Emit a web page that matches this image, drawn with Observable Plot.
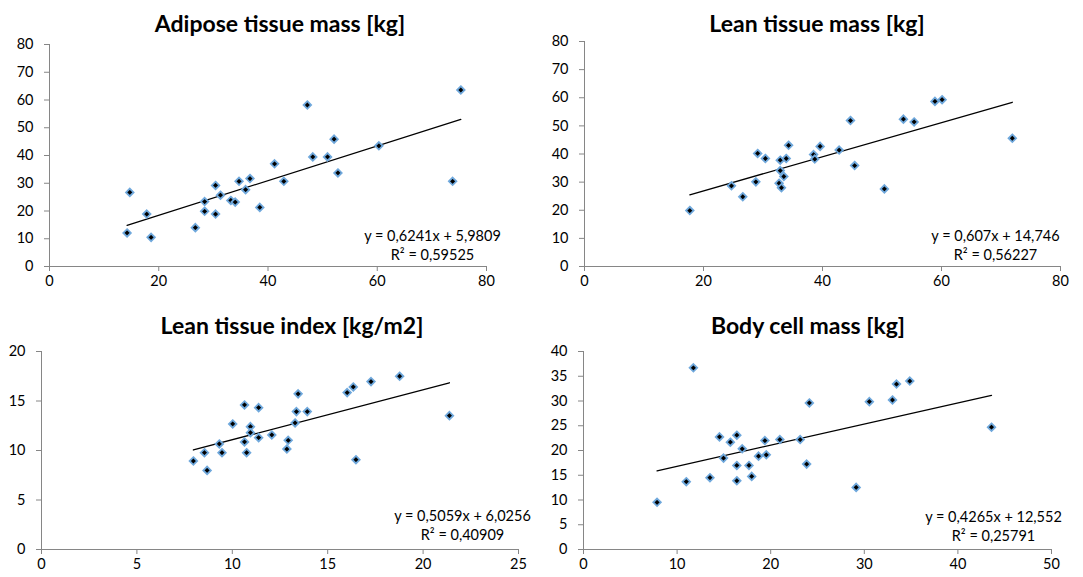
<!DOCTYPE html>
<html>
<head>
<meta charset="utf-8">
<script src="https://cdn.jsdelivr.net/npm/d3@7"></script>
<script src="https://cdn.jsdelivr.net/npm/@observablehq/plot@0.6"></script>
<style>
  body { margin: 0; background: #fff; }
  #wrap { position: relative; width: 1083px; height: 577px; background: #fff; font-family: Lato, Carlito, "Open Sans", sans-serif; }
  .panel { position: absolute; }
  .title { position: absolute; font-weight: bold; font-size: 23px; line-height: 23px; white-space: nowrap; transform: translateX(-50%); color: #000; }
</style>
</head>
<body>
<div id="wrap"></div>
<script>
// ---- Data ----
const titles = ["Adipose tissue mass [kg]", "Lean tissue mass [kg]", "Lean tissue index [kg/m2]", "Body cell mass [kg]"];

const adiposeX = [14.2, 14.7, 17.8, 18.6, 26.7, 28.4, 28.4, 30.4, 30.4, 31.3, 33.2, 34.0, 34.7, 35.9, 36.7, 38.5, 41.2, 42.9, 47.2, 48.2, 50.9, 52.1, 52.8, 60.3, 73.8, 75.3];
const adiposeY = [12.1, 26.7, 18.9, 10.5, 14.0, 23.4, 19.9, 29.2, 18.9, 25.7, 23.8, 23.2, 30.7, 27.7, 31.7, 21.3, 37.0, 30.7, 58.2, 39.5, 39.5, 45.9, 33.7, 43.5, 30.7, 63.6];

const leanMassX = [17.7, 24.7, 26.6, 28.8, 29.1, 30.4, 32.7, 32.9, 32.9, 33.1, 33.5, 33.9, 34.3, 38.5, 38.7, 39.6, 42.8, 44.7, 45.4, 50.4, 53.6, 55.4, 58.9, 60.1, 71.9];
const leanMassY = [19.9, 28.7, 24.8, 30.1, 40.2, 38.4, 29.6, 37.8, 34.1, 28.0, 32.0, 38.4, 43.1, 39.8, 38.2, 42.7, 41.4, 51.9, 35.9, 27.6, 52.4, 51.4, 58.7, 59.3, 45.6];

const leanIndexX = [7.96, 8.54, 8.68, 9.32, 9.46, 10.02, 10.64, 10.64, 10.75, 10.95, 10.95, 11.38, 11.38, 12.07, 12.86, 12.93, 13.29, 13.36, 13.45, 13.93, 16.02, 16.34, 16.48, 17.27, 18.77, 21.38];
const leanIndexY = [8.94, 9.78, 7.99, 10.66, 9.78, 12.68, 14.60, 10.86, 9.78, 12.41, 11.80, 14.33, 11.30, 11.57, 10.15, 11.03, 12.78, 13.93, 15.72, 13.93, 15.85, 16.42, 9.07, 16.96, 17.50, 13.52];

const bodyCellX = [7.86, 10.98, 11.74, 13.51, 14.53, 14.96, 15.69, 16.38, 16.38, 16.38, 16.96, 17.68, 17.97, 18.70, 19.38, 19.53, 20.98, 23.15, 23.84, 24.13, 29.13, 30.54, 33.01, 33.44, 34.86, 43.59];
const bodyCellY = [9.53, 13.69, 36.71, 14.50, 22.75, 18.46, 21.68, 23.09, 16.98, 13.89, 20.34, 16.98, 14.77, 18.86, 22.01, 19.13, 22.21, 22.21, 17.25, 29.60, 12.55, 29.87, 30.20, 33.42, 34.03, 24.70];

const slopes = [0.6241, 0.607, 0.5059, 0.4265];
const intercepts = [5.9809, 14.746, 6.0256, 12.552];
const eqLabels = ["y = 0,6241x + 5,9809", "y = 0,607x + 14,746", "y = 0,5059x + 6,0256", "y = 0,4265x + 12,552"];
const r2Labels = ["R² = 0,59525", "R² = 0,56227", "R² = 0,40909", "R² = 0,25791"];

const xTicksA = [0, 20, 40, 60, 80];
const yTicksA = [0, 10, 20, 30, 40, 50, 60, 70, 80];
const xTicksB = [0, 20, 40, 60, 80];
const yTicksB = [0, 10, 20, 30, 40, 50, 60, 70, 80];
const xTicksC = [0, 5, 10, 15, 20, 25];
const yTicksC = [0, 5, 10, 15, 20];
const xTicksD = [0, 10, 20, 30, 40, 50];
const yTicksD = [0, 5, 10, 15, 20, 25, 30, 35, 40];

// ---- Layout ----
const panels = [
  {xs: adiposeX, ys: adiposeY, xTicks: xTicksA, yTicks: yTicksA,
   left: 0, top: 0, width: 541, height: 290, mL: 49, mR: 55, mT: 44, mB: 24,
   titleX: 280, titleY: 12, eqDx: -54, eqDy1: -30, eqDy2: -11},
  {xs: leanMassX, ys: leanMassY, xTicks: xTicksB, yTicks: yTicksB,
   left: 541, top: 0, width: 542, height: 290, mL: 43, mR: 23, mT: 41, mB: 24,
   titleX: 276, titleY: 12, eqDx: -65, eqDy1: -30, eqDy2: -11},
  {xs: leanIndexX, ys: leanIndexY, xTicks: xTicksC, yTicks: yTicksC,
   left: 0, top: 290, width: 541, height: 287, mL: 41, mR: 23, mT: 61, mB: 28,
   titleX: 292, titleY: 24, eqDx: -56, eqDy1: -33, eqDy2: -14},
  {xs: bodyCellX, ys: bodyCellY, xTicks: xTicksD, yTicks: yTicksD,
   left: 541, top: 290, width: 542, height: 287, mL: 42, mR: 32, mT: 61, mB: 28,
   titleX: 267, titleY: 24, eqDx: -58, eqDy1: -32, eqDy2: -13}
];

const wrap = document.getElementById("wrap");
const axisColor = "#868686";

panels.forEach((p, i) => {
  const pts = p.xs.map((x, j) => ({x, y: p.ys[j]}));
  const [x0, x1] = d3.extent(p.xs);
  const trend = [x0, x1].map(x => ({x, y: slopes[i] * x + intercepts[i]}));

  const chart = Plot.plot({
    width: p.width,
    height: p.height,
    marginLeft: p.mL,
    marginRight: p.mR,
    marginTop: p.mT,
    marginBottom: p.mB,
    x: {domain: [p.xTicks[0], p.xTicks[p.xTicks.length - 1]]},
    y: {domain: [p.yTicks[0], p.yTicks[p.yTicks.length - 1]]},
    style: {fontFamily: "Lato, Carlito, 'Open Sans', sans-serif", fontSize: "14.5px", color: "#000", background: "#fff"},
    marks: [
      Plot.axisX({ticks: p.xTicks, tickSize: 5, tickPadding: 4, stroke: axisColor, fill: "#000", label: null, tickFormat: d => String(d)}),
      Plot.axisY({ticks: p.yTicks, tickSize: 5, tickPadding: 11, stroke: axisColor, fill: "#000", label: null, tickFormat: d => String(d)}),
      Plot.ruleY([p.yTicks[0]], {stroke: axisColor}),
      Plot.ruleX([p.xTicks[0]], {stroke: axisColor}),
      Plot.line(trend, {x: "x", y: "y", stroke: "#000", strokeWidth: 1.3}),
      Plot.dot(pts, {x: "x", y: "y", symbol: "diamond2", r: 3.4, fill: "#000", stroke: "#6fa8dc", strokeWidth: 1.8}),
      Plot.text([eqLabels[i]], {text: d => d, frameAnchor: "bottom-right", dx: p.eqDx, dy: p.eqDy1, textAnchor: "middle", lineAnchor: "middle", fill: "#000"}),
      Plot.text([r2Labels[i]], {text: d => d, frameAnchor: "bottom-right", dx: p.eqDx, dy: p.eqDy2, textAnchor: "middle", lineAnchor: "middle", fill: "#000"})
    ]
  });

  const div = document.createElement("div");
  div.className = "panel";
  div.style.left = p.left + "px";
  div.style.top = p.top + "px";
  div.style.width = p.width + "px";
  div.style.height = p.height + "px";
  div.appendChild(chart);

  const t = document.createElement("div");
  t.className = "title";
  t.textContent = titles[i];
  t.style.left = p.titleX + "px";
  t.style.top = p.titleY + "px";
  div.appendChild(t);

  wrap.appendChild(div);
});
</script>
</body>
</html>
